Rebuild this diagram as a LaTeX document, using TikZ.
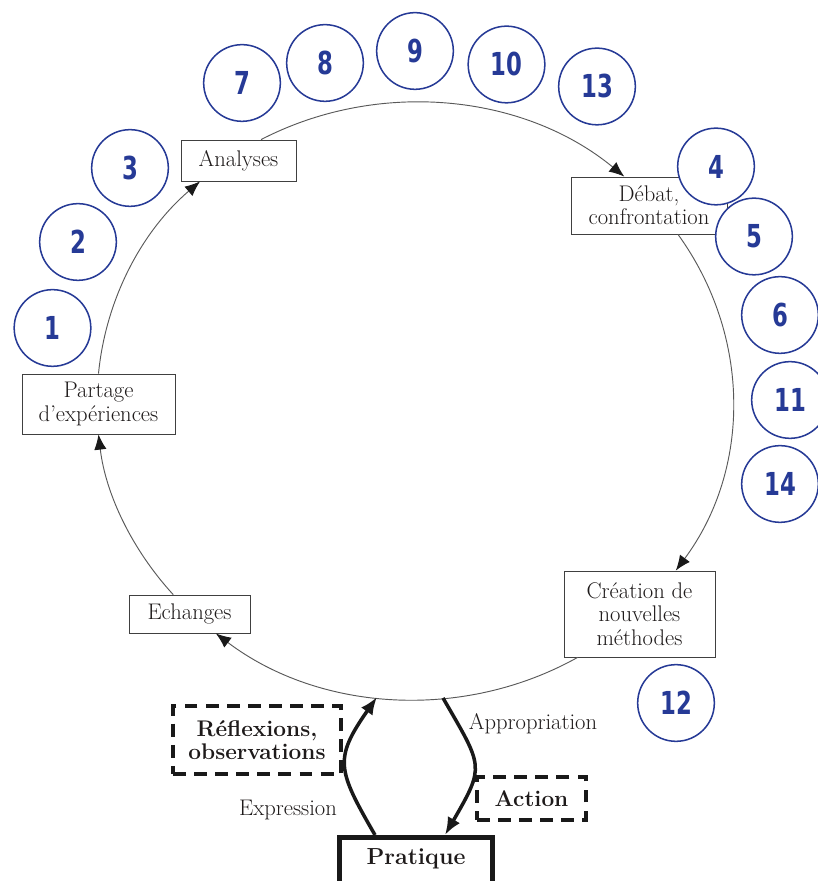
\documentclass[tikz,border=0pt]{standalone}
\usepackage{fontspec}
\usetikzlibrary{arrows.meta,calc}
\newfontfamily\numfont[FakeStretch=0.72]{DejaVu Sans}
\definecolor{numblue}{RGB}{38,58,150}
\definecolor{ink}{RGB}{30,26,26}
\newcommand{\txtsize}{\fontsize{19.3}{20}\selectfont}
\tikzset{
  stage/.style={draw=black!75, line width=0.7pt, fill=white, align=center, inner sep=2pt, text=ink, font=\txtsize},
  note/.style={stage, draw=black!90, line width=3pt, dash pattern=on 11pt off 7pt, font=\txtsize\bfseries},
  num/.style={circle, draw=numblue, line width=1.3pt, fill=white, minimum size=2.3cm, inner sep=0pt, text=numblue, font=\numfont\bfseries\fontsize{27}{27}\selectfont},
  ring/.style={draw=black!65, line width=0.8pt, -{Latex[length=13pt,width=10.5pt,color=black!90]}},
  loopline/.style={draw=black!90, line width=3pt, -{Latex[length=15pt,width=12pt]}},
  lbl/.style={text=ink, font=\txtsize}
}
\begin{document}
\begin{tikzpicture}[x=0.03cm,y=0.03cm]
\useasboundingbox (0,0) rectangle (817,881);
\node[stage, minimum width=3.45cm, minimum height=1.23cm] (ana) at (238.5,720.5) {Analyses};
\node[stage, minimum width=4.68cm, minimum height=1.71cm] (deb) at (649,675.5) {Débat,\\confrontation};
\node[stage, minimum width=4.59cm, minimum height=1.80cm] (par) at (98.5,477) {Partage\\d'expériences};
\node[stage, minimum width=3.63cm, minimum height=1.14cm] (ech) at (189.5,267) {Echanges};
\node[stage, minimum width=4.53cm, minimum height=2.58cm] (cre) at (639.5,267) {Création de\\nouvelles\\méthodes};
\node[note, minimum width=5.04cm, minimum height=2.04cm] (ref) at (257,141) {Réflexions,\\observations};
\node[note, minimum width=3.27cm, minimum height=1.29cm] (act) at (531.5,82.5) {Action};
\node[stage, draw=black!90, line width=4.2pt, font=\fontsize{19.8}{20}\selectfont\bfseries, minimum width=4.59cm, inner sep=4pt, text height=19.5pt, text depth=30pt, anchor=north] (prat) at (416,46) {Pratique};
\coordinate (botl) at (377,184);
\coordinate (botr) at (443,183);
\draw[ring] ($(cre.south west)+(14,0)$) .. controls +(-114.3,-63.9) and +(103.6,-78.3) .. ($(ech.south east)+(-34.6,0)$);
\draw[ring] ($(ech.north west)+(44.6,0)$) .. controls +(-41.5,45.3) and +(7.1,-59.4) .. (par.south);
\draw[ring] (par.north) .. controls +(7.2,74.1) and +(-58.6,-50.1) .. ($(ana.south west)+(19.5,0)$);
\draw[ring] ($(ana.north west)+(80.5,0)$) .. controls +(117.4,60.7) and +(-100.7,82.9) .. ($(deb.north west)+(53.7,0)$);
\draw[ring] ($(deb.south west)+(107.4,0)$) .. controls +(73.7,-102.0) and +(75.0,101.1) .. ($(cre.north west)+(112.2,0)$);
\draw[loopline] ($(prat.north)+(-41,0)$) to[out=120,in=235,looseness=1.4] (botl);
\draw[loopline] (botr) to[out=-60,in=60,looseness=1.5] ($(prat.north)+(29,0)$);
\node[lbl] (appr) at (533,157) {Appropriation};
\node[lbl] (expr) at (288,71) {Expression};
\node[num] (n1) at (52.5,553) {1};
\node[num] (n2) at (78,639) {2};
\node[num] (n3) at (130,713) {3};
\node[num] (n7) at (242,798) {7};
\node[num] (n8) at (325,818) {8};
\node[num] (n9) at (415,830) {9};
\node[num] (n10) at (506.5,816.5) {10};
\node[num] (n13) at (597,794.5) {13};
\node[num] (n4) at (716,714.5) {4};
\node[num] (n5) at (754,644.5) {5};
\node[num] (n6) at (780,566) {6};
\node[num] (n11) at (790,481) {11};
\node[num] (n14) at (780,397) {14};
\node[num] (n12) at (676,178) {12};
\end{tikzpicture}
\end{document}
